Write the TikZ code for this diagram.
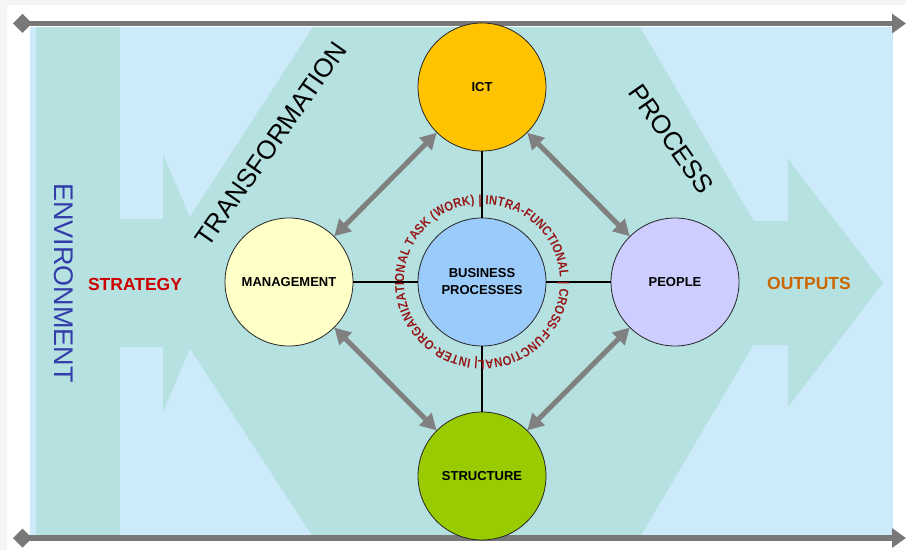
\documentclass[tikz,border=0pt]{standalone}
\usepackage{fontspec}
\setmainfont{Liberation Sans}
\newfontfamily\ringfont[FakeStretch=0.86]{Liberation Sans}
\usetikzlibrary{arrows.meta,decorations.text}
\definecolor{skyback}{RGB}{205,234,250}
\definecolor{tealband}{RGB}{182,225,225}
\definecolor{rulegray}{RGB}{120,120,120}
\definecolor{arrgray}{RGB}{128,128,128}
\definecolor{ictgold}{RGB}{255,195,0}
\definecolor{mgmtyellow}{RGB}{255,255,200}
\definecolor{bpblue}{RGB}{155,203,250}
\definecolor{peoplelilac}{RGB}{205,205,255}
\definecolor{structgreen}{RGB}{153,204,0}
\definecolor{stratred}{RGB}{204,0,0}
\definecolor{outorange}{RGB}{204,102,0}
\definecolor{envblue}{RGB}{51,61,170}
\definecolor{ringred}{RGB}{150,20,20}
\tikzset{
  ball/.style={circle,draw=black!85,line width=0.8pt,minimum size=128pt,inner sep=0pt,
    font=\fontsize{13}{17}\selectfont\bfseries,align=center},
  link/.style={line width=2.5pt,black},
  twoway/.style={arrgray,line width=5pt,{Triangle[length=16pt,width=17pt]}-{Triangle[length=16pt,width=17pt]}},
  frameline/.style={rulegray,line width=5.5pt,{Diamond[length=19pt,width=19pt]}-{Triangle[length=14pt,width=19pt]}}
}
\begin{document}
\begin{tikzpicture}[x=1pt,y=1pt]
\useasboundingbox (0,0) rectangle (906,550);
% page and backdrop
\fill[gray!8] (0,0) rectangle (906,550);
\fill[white] (7,0) rectangle (906,545);
\fill[skyback] (30,13) rectangle (893,523);
\fill[tealband] (36,13) rectangle (120,523);
\fill[tealband] (147,267) -- (313,523) -- (640,523) -- (790,267) -- (640,13) -- (313,13) -- cycle;
\fill[tealband] (120,203) -- (120,331) -- (163,331) -- (163,396) -- (218,267) -- (163,138) -- (163,203) -- cycle;
\fill[tealband] (750,205) -- (750,329) -- (788,329) -- (788,391) -- (883,267) -- (788,143) -- (788,205) -- cycle;
\draw[frameline] (13,526.5) -- (906,526.5);
\draw[frameline] (13,12) -- (906,12);

\node[ball,fill=ictgold] (ict) at (482,463) {ICT};
\node[ball,fill=mgmtyellow] (mgmt) at (289,268) {MANAGEMENT};
\node[ball,fill=peoplelilac] (people) at (675,268) {PEOPLE};
\node[ball,fill=structgreen] (struct) at (482,74) {STRUCTURE};
\node[ball,fill=bpblue] (bp) at (482,268) {BUSINESS\\PROCESSES};

\draw[link] (ict) -- (bp);
\draw[link] (bp) -- (struct);
\draw[link] (mgmt) -- (bp);
\draw[link] (bp) -- (people);

\draw[twoway] (ict) -- (mgmt);
\draw[twoway] (ict) -- (people);
\draw[twoway] (mgmt) -- (struct);
\draw[twoway] (people) -- (struct);

% ring of levels round the processes
\ringfont\bfseries\fontsize{13}{15}\selectfont
\path[decorate,decoration={text along path,text format delimiters={[}{]},text color=ringred,
    text align={fit to path},
    text={[\ringfont\bfseries\fontsize{13}{15}\selectfont]| INTER-ORGANIZATIONAL TASK (WORK) | INTRA-FUNCTIONAL | CROSS-FUNCTIONAL }}]
  (bp.center) ++(-93:78) arc[start angle=-93,delta angle=-360,radius=78];
\normalfont

\node[font=\fontsize{17.5}{20}\selectfont\bfseries,text=stratred] (strat) at (135,266) {STRATEGY};
\node[font=\fontsize{17.5}{20}\selectfont\bfseries,text=outorange] (outs) at (809,267) {OUTPUTS};
\node[font=\fontsize{27}{30}\selectfont,text=envblue,rotate=-90] (env) at (63.5,267) {ENVIRONMENT};
\node[font=\fontsize{26}{30}\selectfont,rotate=55] (trans) at (271,406) {TRANSFORMATION};
\node[font=\fontsize{26}{30}\selectfont,rotate=-55] (proc) at (671.5,411) {PROCESS};
\end{tikzpicture}
\end{document}
